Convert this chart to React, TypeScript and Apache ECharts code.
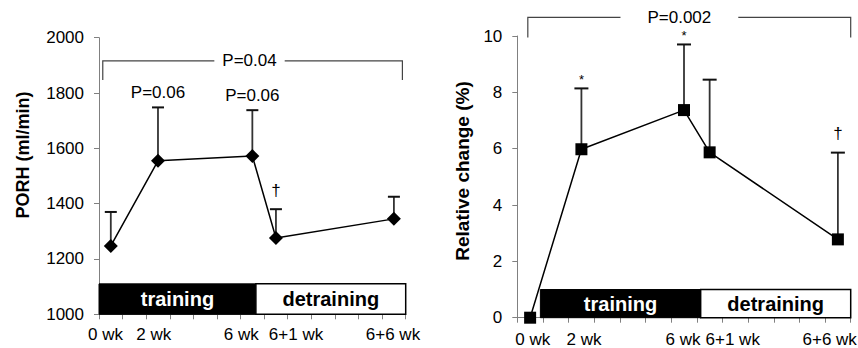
import React, { useEffect, useRef } from "react";
import * as echarts from "echarts";

// ---- data ----
const weeks = [0, 2, 6, 7, 12];
const weekLabels = ["0 wk", "2 wk", "6 wk", "6+1 wk", "6+6 wk"];

const porhMean = [1247, 1555, 1572, 1276, 1345];
const porhUpper = [1370, 1748, 1738, 1380, 1425];
const porhNotes = ["", "P=0.06", "P=0.06", "\u2020", ""];

const relMean = [0, 5.98, 7.37, 5.87, 2.78];
const relUpper: (number | null)[] = [null, 8.14, 9.7, 8.45, 5.86];
const relNotes = ["", "*", "*", "", "\u2020"];

// phase bars: [label, fromWeek, toWeek]
const porhPhases: [string, number, number][] = [
  ["training", -0.5, 6.15],
  ["detraining", 6.15, 12.5],
];
const porhPhaseTop = 1110;
const relPhases: [string, number, number][] = [
  ["training", 0.4, 6.65],
  ["detraining", 6.65, 12.5],
];
const relPhaseTop = 1.0;

// brackets: [fromWeek, toWeek, lineY, dropY, textWeek]
const porhBracket = [-0.34, 12.36, 1916, 1847, 5.88];
const porhBracketText = "P=0.04";
const relBracket = [-0.09, 12.5, 10.66, 9.95, 5.82];
const relBracketText = "P=0.002";

// x label anchor positions (weeks)
const porhLabelPos = [-0.22, 1.82, 5.53, 7.85, 11.96];
const relLabelPos = [0.1, 2.1, 5.96, 7.9, 11.68];

const FONT = '"Liberation Sans", Arial, Helvetica, sans-serif';
const tickWeeks = Array.from({ length: 14 }, (_, i) => i - 0.5);

const noteStyle: Record<string, { size: number; off: number }> = {
  "P=0.06": { size: 17, off: 15 },
  "\u2020": { size: 17, off: 19 },
  "*": { size: 13, off: 9 },
};

function xAxisCfg(gridIndex: number, labelPos: number[], margin: number) {
  return {
    type: "value",
    gridIndex,
    min: -0.5,
    max: 12.5,
    axisLine: { show: true, onZero: false, lineStyle: { color: "#808080", width: 1 } },
    axisTick: {
      show: true,
      customValues: tickWeeks,
      length: 5,
      lineStyle: { color: "#808080" },
    },
    axisLabel: {
      customValues: labelPos,
      formatter: (v: number) => {
        let best = 0;
        labelPos.forEach((p, i) => {
          if (Math.abs(p - v) < Math.abs(labelPos[best] - v)) best = i;
        });
        return weekLabels[best];
      },
      margin,
      fontSize: 17,
      lineHeight: 15,
      color: "#000",
      fontFamily: FONT,
    },
    splitLine: { show: false },
  };
}

function yAxisCfg(gridIndex: number, min: number, max: number, interval: number) {
  return {
    type: "value",
    gridIndex,
    min,
    max,
    interval,
    axisLine: { show: true, onZero: false, lineStyle: { color: "#808080", width: 1 } },
    axisTick: { show: true, length: 5, lineStyle: { color: "#808080" } },
    axisLabel: {
      margin: 15,
      fontSize: 17,
      color: "#000",
      fontFamily: FONT,
      formatter: (v: number) => String(v),
    },
    splitLine: { show: false },
  };
}

function lineSeries(axisIndex: number, means: number[], symbol: string, size: number, phases: [string, number, number][], baseY: number, topY: number) {
  return {
    type: "line",
    xAxisIndex: axisIndex,
    yAxisIndex: axisIndex,
    z: 3,
    data: weeks.map((w, i) => [w, means[i]]),
    symbol,
    symbolSize: size,
    itemStyle: { color: "#000" },
    lineStyle: { color: "#000", width: 1.5 },
    markArea: {
      silent: true,
      label: {
        show: true,
        position: "inside",
        fontSize: 20,
        fontWeight: "bold",
        fontFamily: FONT,
      },
      data: phases.map(([name, a, b], i) => [
        {
          name,
          xAxis: a,
          yAxis: baseY,
          itemStyle:
            i === 0
              ? { color: "#000", borderColor: "#000", borderWidth: 1 }
              : { color: "#fff", borderColor: "#000", borderWidth: 1.5 },
          label: { color: i === 0 ? "#fff" : "#000" },
        },
        { xAxis: b, yAxis: topY },
      ]),
    },
  };
}

function errorSeries(axisIndex: number, means: number[], uppers: (number | null)[], notes: string[], capHalf: number) {
  const data: number[][] = [];
  weeks.forEach((w, i) => {
    const u = uppers[i];
    if (u != null) data.push([w, means[i], u, i]);
  });
  return {
    type: "custom",
    xAxisIndex: axisIndex,
    yAxisIndex: axisIndex,
    z: 2,
    silent: true,
    data,
    renderItem: (_p: any, api: any) => {
      const x = api.value(0);
      const p = api.coord([x, api.value(1)]);
      const t = api.coord([x, api.value(2)]);
      const idx = api.value(3);
      const children: any[] = [
        {
          type: "line",
          shape: { x1: p[0], y1: p[1], x2: t[0], y2: t[1] },
          style: { stroke: "#333", lineWidth: 1.8 },
        },
        {
          type: "line",
          shape: { x1: t[0] - capHalf, y1: t[1], x2: t[0] + capHalf, y2: t[1] },
          style: { stroke: "#111", lineWidth: 2 },
        },
      ];
      const note = notes[idx];
      if (note) {
        const ns = noteStyle[note];
        children.push({
          type: "text",
          style: {
            text: note,
            x: t[0],
            y: t[1] - ns.off,
            fill: "#000",
            font: `${ns.size}px ${FONT}`,
            textAlign: "center",
            textVerticalAlign: "middle",
          },
        });
      }
      return { type: "group", children };
    },
  };
}

function bracketSeries(axisIndex: number, br: number[], text: string, pad: number) {
  return {
    type: "custom",
    xAxisIndex: axisIndex,
    yAxisIndex: axisIndex,
    z: 4,
    silent: true,
    clip: false,
    data: [br],
    renderItem: (_p: any, api: any) => {
      const x0 = api.value(0), x1 = api.value(1), yl = api.value(2), yd = api.value(3), xt = api.value(4);
      const a = api.coord([x0, yd]);
      const b = api.coord([x0, yl]);
      const c = api.coord([x1, yl]);
      const d = api.coord([x1, yd]);
      const tp = api.coord([xt, yl]);
      return {
        type: "group",
        children: [
          {
            type: "polyline",
            shape: { points: [a, b, c, d] },
            style: { stroke: "#444", lineWidth: 1.2, fill: null },
          },
          {
            type: "text",
            style: {
              text,
              x: tp[0],
              y: tp[1],
              fill: "#000",
              font: `17px ${FONT}`,
              textAlign: "center",
              textVerticalAlign: "middle",
              backgroundColor: "#fff",
              padding: [2, pad],
            },
          },
        ],
      };
    },
  };
}

export default function App() {
  const ref = useRef<HTMLDivElement>(null);
  useEffect(() => {
    if (!ref.current) return;
    const chart = echarts.init(ref.current, undefined, { renderer: "svg" });
    chart.setOption({
      animation: false,
      backgroundColor: "#fff",
      grid: [
        { left: 99, top: 37.7, width: 306.7, height: 276.6, outerBoundsMode: "none", containLabel: false },
        { left: 517.3, top: 36, width: 333.4, height: 281.7, outerBoundsMode: "none", containLabel: false },
      ],
      xAxis: [xAxisCfg(0, porhLabelPos, 13), xAxisCfg(1, relLabelPos, 14.5)],
      yAxis: [yAxisCfg(0, 1000, 2000, 200), yAxisCfg(1, 0, 10, 2)],
      graphic: [
        {
          type: "text",
          x: 23,
          y: 155,
          rotation: Math.PI / 2,
          style: {
            text: "PORH (ml/min)",
            font: `bold 18px ${FONT}`,
            fill: "#000",
            textAlign: "center",
            textVerticalAlign: "middle",
          },
        },
        {
          type: "text",
          x: 462,
          y: 171,
          rotation: Math.PI / 2,
          style: {
            text: "Relative change (%)",
            font: `bold 19px ${FONT}`,
            fill: "#000",
            textAlign: "center",
            textVerticalAlign: "middle",
          },
        },
      ],
      series: [
        lineSeries(0, porhMean, "diamond", 14, porhPhases, 1000, porhPhaseTop),
        errorSeries(0, porhMean, porhUpper, porhNotes, 6),
        bracketSeries(0, porhBracket, porhBracketText, 8),
        lineSeries(1, relMean, "rect", 12, relPhases, 0, relPhaseTop),
        errorSeries(1, relMean, relUpper, relNotes, 7),
        bracketSeries(1, relBracket, relBracketText, 27),
      ],
    });
    return () => chart.dispose();
  }, []);
  return (
    <div
      ref={ref}
      style={{ position: "fixed", left: 0, top: 0, width: 858, height: 348, background: "#fff" }}
    />
  );
}
